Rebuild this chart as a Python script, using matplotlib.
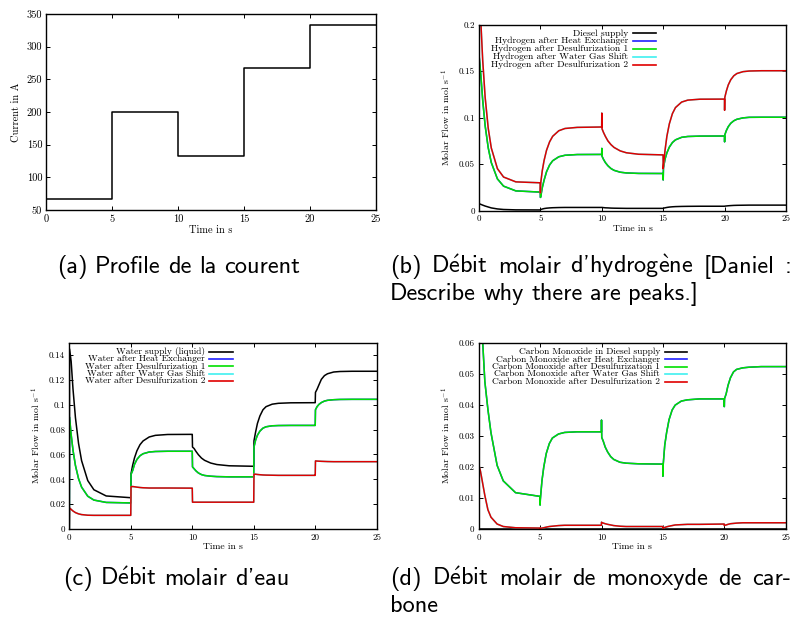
import matplotlib
matplotlib.use("Agg")
import matplotlib.pyplot as plt
from matplotlib.lines import Line2D
from matplotlib.ticker import FuncFormatter, MultipleLocator

plt.rcParams['font.family'] = ['cmr10', 'DejaVu Serif']
plt.rcParams['mathtext.fontset'] = 'cm'
plt.rcParams['axes.formatter.use_mathtext'] = True
plt.rcParams['axes.unicode_minus'] = False

W, H = 793, 624

# (a) current profile
t_step = [0, 5, 10, 15, 20, 25]
current = [66.7, 200, 133.3, 266.7, 333.3, 333.3]

# shared time grid for the flow panels
t = [0, 0.02, 0.15, 0.3, 0.5, 0.75, 1.0, 1.5, 2.0, 3.0, 4.99,
     5.0, 5.02, 5.15, 5.3, 5.5, 5.75, 6.0, 6.5, 7.0, 8.0, 9.99,
     10.0, 10.02, 10.15, 10.3, 10.5, 10.75, 11.0, 11.5, 12.0, 13.0, 14.99,
     15.0, 15.02, 15.15, 15.3, 15.5, 15.75, 16.0, 16.5, 17.0, 18.0, 19.99,
     20.0, 20.02, 20.15, 20.3, 20.5, 20.75, 21.0, 21.5, 22.0, 23.0, 24.99,
     25.0]

# (b) hydrogen
h2_diesel = [0, 0.0075, 0.0068, 0.006, 0.005, 0.004, 0.003, 0.0019, 0.0013, 0.0009, 0.0008,
             0.0008, 0.0012, 0.0018, 0.0023, 0.0027, 0.003, 0.0032, 0.0034, 0.0035, 0.0035, 0.0035,
             0.0035, 0.0035, 0.0033, 0.0031, 0.003, 0.0028, 0.0027, 0.0026, 0.0025, 0.0025, 0.0025,
             0.0025, 0.0027, 0.0031, 0.0035, 0.0039, 0.0042, 0.0044, 0.0046, 0.0047, 0.0048, 0.0048,
             0.0048, 0.0049, 0.0051, 0.0053, 0.0055, 0.0057, 0.0058, 0.0059, 0.006, 0.006, 0.006,
             0.006]
h2_des1 = [0, 0.165, 0.1456, 0.119, 0.0914, 0.0677, 0.0518, 0.0342, 0.0264, 0.0213, 0.020,
           0.0143, 0.0145, 0.0246, 0.0328, 0.0419, 0.0492, 0.0537, 0.058, 0.0596, 0.0604, 0.0605,
           0.067, 0.0585, 0.0549, 0.0516, 0.0483, 0.0453, 0.0434, 0.0414, 0.0406, 0.0401, 0.040,
           0.033, 0.046, 0.0555, 0.0622, 0.0684, 0.0733, 0.0762, 0.0789, 0.0798, 0.0802, 0.0803,
           0.074, 0.0817, 0.0864, 0.0904, 0.094, 0.0967, 0.0983, 0.0998, 0.1004, 0.1005, 0.1005,
           0.1005]
h2_hx = h2_des1
h2_des2 = [0, 0.25, 0.203, 0.162, 0.122, 0.0888, 0.0675, 0.0452, 0.0362, 0.031, 0.030,
           0.019, 0.029, 0.0428, 0.054, 0.065, 0.0741, 0.080, 0.086, 0.0884, 0.0896, 0.090,
           0.105, 0.088, 0.0838, 0.0797, 0.075, 0.071, 0.068, 0.0643, 0.0623, 0.0607, 0.060,
           0.045, 0.048, 0.065, 0.080, 0.0934, 0.1044, 0.1109, 0.1168, 0.1189, 0.1199, 0.120,
           0.108, 0.122, 0.129, 0.1353, 0.1408, 0.1451, 0.1475, 0.1495, 0.1502, 0.1505, 0.1505,
           0.1505]
h2_wgs = h2_des2

# (c) water
w_supply = [0, 0.145, 0.135, 0.1128, 0.0896, 0.069, 0.055, 0.039, 0.0316, 0.0266, 0.0252,
            0.0252, 0.0445, 0.0512, 0.0572, 0.063, 0.0679, 0.0709, 0.0741, 0.0754, 0.0761, 0.0762,
            0.0762, 0.066, 0.0648, 0.0625, 0.0598, 0.0571, 0.0553, 0.0531, 0.0519, 0.0509, 0.0505,
            0.0505, 0.071, 0.078, 0.085, 0.091, 0.096, 0.0985, 0.1005, 0.1012, 0.1016, 0.1017,
            0.1017, 0.110, 0.1125, 0.116, 0.1205, 0.1235, 0.125, 0.1264, 0.1268, 0.127, 0.127,
            0.127]
w_des1 = [0, 0.090, 0.076, 0.0635, 0.0511, 0.0406, 0.0337, 0.0264, 0.0233, 0.0214, 0.021,
          0.021, 0.044, 0.047, 0.052, 0.056, 0.059, 0.0606, 0.062, 0.0624, 0.0626, 0.0626,
          0.0626, 0.050, 0.0485, 0.0468, 0.0451, 0.0438, 0.0431, 0.0425, 0.0422, 0.042, 0.042,
          0.042, 0.066, 0.0715, 0.0755, 0.0788, 0.0812, 0.0823, 0.0831, 0.0833, 0.0834, 0.0834,
          0.0834, 0.096, 0.0985, 0.1003, 0.1018, 0.103, 0.1036, 0.1041, 0.1043, 0.1044, 0.1044,
          0.1044]
w_hx = w_des1
w_des2 = [0, 0.017, 0.0158, 0.0145, 0.0132, 0.0122, 0.0116, 0.0111, 0.011, 0.011, 0.011,
          0.011, 0.034, 0.0342, 0.034, 0.0337, 0.0334, 0.0332, 0.033, 0.033, 0.033, 0.0329,
          0.0329, 0.0216, 0.0216, 0.0216, 0.0216, 0.0216, 0.0216, 0.0216, 0.0216, 0.0216, 0.0216,
          0.0216, 0.0442, 0.0441, 0.0439, 0.0437, 0.0435, 0.0434, 0.0433, 0.0432, 0.0432, 0.0432,
          0.0432, 0.0548, 0.0547, 0.0546, 0.0545, 0.0544, 0.0543, 0.0542, 0.0542, 0.0542, 0.0542,
          0.0542]
w_wgs = w_des2

# (d) carbon monoxide
t_co_diesel = [0, 25]
co_diesel = [0.0, 0.0]
co_des1 = [0, 0.09, 0.08, 0.062, 0.0475, 0.0385, 0.031, 0.0205, 0.0155, 0.0117, 0.0105,
           0.0077, 0.0095, 0.0155, 0.020, 0.0243, 0.0275, 0.0293, 0.0306, 0.0311, 0.0313, 0.0313,
           0.0351, 0.0295, 0.0282, 0.0264, 0.0248, 0.0233, 0.0224, 0.0215, 0.0212, 0.021, 0.0209,
           0.017, 0.0205, 0.027, 0.031, 0.0352, 0.0383, 0.0399, 0.0412, 0.0416, 0.0419, 0.0419,
           0.0394, 0.042, 0.0435, 0.0462, 0.0487, 0.0506, 0.0514, 0.0519, 0.0521, 0.0523, 0.0523,
           0.0523]
co_hx = co_des1
co_des2 = [0, 0.0206, 0.0185, 0.0152, 0.0108, 0.0062, 0.0038, 0.0016, 0.0008, 0.0004, 0.0003,
           0.0001, 0.0002, 0.0003, 0.0004, 0.0006, 0.0008, 0.0009, 0.0011, 0.0012, 0.0012, 0.0012,
           0.0022, 0.0021, 0.0019, 0.0017, 0.0015, 0.0013, 0.0011, 0.0009, 0.0008, 0.0008, 0.0008,
           0.0002, 0.0003, 0.0005, 0.0007, 0.0009, 0.0011, 0.0013, 0.0014, 0.0015, 0.0015, 0.0016,
           0.0011, 0.0012, 0.0013, 0.0015, 0.0017, 0.0018, 0.0019, 0.002, 0.002, 0.002, 0.002,
           0.002]
co_wgs = co_des2

colors = ['#000000', '#2020ff', '#00e000', '#40f0f0', '#e00000']
labels_h2 = ['Diesel supply', 'Hydrogen after Heat Exchanger', 'Hydrogen after Desulfurization 1',
             'Hydrogen after Water Gas Shift', 'Hydrogen after Desulfurization 2']
labels_w = ['Water supply (liquid)', 'Water after Heat Exchanger', 'Water after Desulfurization 1',
            'Water after Water Gas Shift', 'Water after Desulfurization 2']
labels_co = ['Carbon Monoxide in Diesel supply', 'Carbon Monoxide after Heat Exchanger',
             'Carbon Monoxide after Desulfurization 1', 'Carbon Monoxide after Water Gas Shift',
             'Carbon Monoxide after Desulfurization 2']

# captions (accented letters go through mathtext so they stay in cmss;
# the plain quote is the curly apostrophe in the TeX font)
DEBIT = r'D$\mathsf{\acute{e}}$bit'
HYDRO = r"d'hydrog$\mathsf{\grave{e}}$ne"


def px_axes(fig, left, top, right, bottom):
    return fig.add_axes([left / W, 1 - bottom / H, (right - left) / W, (bottom - top) / H])


def style_axes(ax, tick_size):
    ax.tick_params(direction='in', top=True, right=True, length=3, width=0.7,
                   labelsize=tick_size, pad=3)
    ax.xaxis.set_major_formatter(FuncFormatter(lambda v, p: '%g' % v))
    ax.yaxis.set_major_formatter(FuncFormatter(lambda v, p: '%g' % v))
    for s in ax.spines.values():
        s.set_linewidth(1.0)
    ax.set_xlim(0, 25)
    ax.xaxis.set_major_locator(MultipleLocator(5))


def draw_key(fig, labels, x_text, x0, x1, y0, dy, size):
    # gnuplot style key: right aligned text, sample line to the right
    for i, (lab, c) in enumerate(zip(labels, colors)):
        y = 1 - (y0 + i * dy) / H
        fig.text(x_text / W, y, lab, ha='right', va='center', fontsize=size)
        fig.add_artist(Line2D([x0 / W, x1 / W], [y, y], color=c, lw=1.2))


def line_of_words(fig, words, x0, y, x1=None, **kw):
    # lay words out one by one; with x1 the line is justified like LaTeX
    r = fig.canvas.get_renderer()
    items = [fig.text(0, 1 - y / H, w, **kw) for w in words]
    widths = [it.get_window_extent(r).width for it in items]
    space = 7.5
    if x1 is not None and len(words) > 1:
        space = max((x1 - x0 - sum(widths)) / (len(words) - 1), space)
    x = x0
    for it, w in zip(items, widths):
        it.set_x(x / W)
        x += w + space


fig = plt.figure(figsize=(W / 100, H / 100), dpi=100)

# (a)
ax = px_axes(fig, 46.3, 14, 376, 210)
ax.plot(t_step, current, drawstyle='steps-post', color='black', lw=1.1)
style_axes(ax, 7.5)
ax.set_ylim(50, 350)
ax.yaxis.set_major_locator(MultipleLocator(50))
ax.set_xlabel('Time in s', fontsize=7.5, labelpad=1)
ax.set_ylabel('Current in A', fontsize=7.5, labelpad=4)

# (b)
ax = px_axes(fig, 479, 24.7, 786, 210.7)
for y, c in zip([h2_diesel, h2_hx, h2_des1, h2_wgs, h2_des2], colors):
    ax.plot(t, y, color=c, lw=1.1)
style_axes(ax, 6.5)
ax.set_ylim(0, 0.2)
ax.yaxis.set_major_locator(MultipleLocator(0.05))
ax.set_xlabel('Time in s', fontsize=7, labelpad=1)
ax.set_ylabel(r'Molar Flow in mol s$^{-1}$', fontsize=7, labelpad=4)
draw_key(fig, labels_h2, 628, 633, 656, 33.3, 7.85, 6.9)

# (c)
ax = px_axes(fig, 69.3, 342.7, 376.7, 529)
for y, c in zip([w_supply, w_hx, w_des1, w_wgs, w_des2], colors):
    ax.plot(t, y, color=c, lw=1.1)
style_axes(ax, 6.5)
ax.set_ylim(0, 0.15)
ax.yaxis.set_major_locator(MultipleLocator(0.02))
ax.set_xlabel('Time in s', fontsize=7, labelpad=1)
ax.set_ylabel(r'Molar Flow in mol s$^{-1}$', fontsize=7, labelpad=4)
draw_key(fig, labels_w, 205, 209, 233, 351.7, 7.3, 6.8)

# (d)
ax = px_axes(fig, 478.7, 342.7, 785.7, 529)
ax.plot(t_co_diesel, co_diesel, color=colors[0], lw=1.1)
for y, c in zip([co_hx, co_des1, co_wgs, co_des2], colors[1:]):
    ax.plot(t, y, color=c, lw=1.1)
style_axes(ax, 6.5)
ax.set_ylim(0, 0.06)
ax.yaxis.set_major_locator(MultipleLocator(0.01))
ax.set_xlabel('Time in s', fontsize=7, labelpad=1)
ax.set_ylabel(r'Molar Flow in mol s$^{-1}$', fontsize=7, labelpad=4)
draw_key(fig, labels_co, 660, 665, 687, 352, 7.4, 6.8)

# captions
cap = dict(fontsize=17.5, family=['cmss10', 'DejaVu Sans'], va='baseline', ha='left')
line_of_words(fig, ['(a)', 'Profile', 'de', 'la', 'courent'], 57, 273, **cap)
line_of_words(fig, ['(b)', DEBIT, 'molair', HYDRO, '[Daniel', ':'], 390, 273, x1=791, **cap)
line_of_words(fig, ['Describe', 'why', 'there', 'are', 'peaks.]'], 390, 300, **cap)
line_of_words(fig, ['(c)', DEBIT, 'molair', "d'eau"], 63, 585, **cap)
line_of_words(fig, ['(d)', DEBIT, 'molair', 'de', 'monoxyde', 'de', 'car-'], 390, 585, x1=791, **cap)
line_of_words(fig, ['bone'], 390, 612, **cap)

fig.savefig('out.png', dpi=100)
